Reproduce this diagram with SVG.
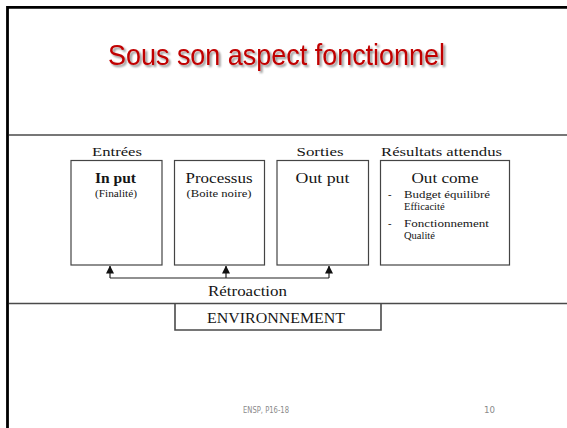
<svg xmlns="http://www.w3.org/2000/svg" width="567" height="428" viewBox="0 0 567 428">
  <style>
    .serif { font-family: "Liberation Serif", "Times New Roman", serif; fill: #151515; }
    .box { fill: #ffffff; stroke: #444444; stroke-width: 1.2; }
    .rule { stroke: #4a4a4a; stroke-width: 1.6; fill: none; }
    .link { stroke: #222222; stroke-width: 1.2; fill: none; }
    .foot { font-family: "DejaVu Sans Condensed", "Liberation Sans", sans-serif; font-size: 9px; fill: #8a8a8a; }
  </style>
  <defs>
    <marker id="tri" viewBox="0 0 8 8" refX="7.5" refY="4" markerWidth="8" markerHeight="8" markerUnits="userSpaceOnUse" orient="auto">
      <path d="M0,0 L8,4 L0,8 Z" fill="#111111"/>
    </marker>
    <!-- soft grey drop shadow for the heading -->
    <filter id="shadow" x="-5%" y="-20%" width="110%" height="150%">
      <feGaussianBlur in="SourceAlpha" stdDeviation="1.2" result="blur"/>
      <feOffset in="blur" dx="2" dy="2" result="off"/>
      <feComponentTransfer in="off" result="grey">
        <feFuncA type="linear" slope="0.45"/>
      </feComponentTransfer>
      <feMerge>
        <feMergeNode in="grey"/>
        <feMergeNode in="SourceGraphic"/>
      </feMerge>
    </filter>
  </defs>

  <!-- page -->
  <rect x="0" y="0" width="567" height="428" fill="#ffffff"/>
  <path d="M7.5,428 V7.3 H567" fill="none" stroke="#000000" stroke-width="2.8"/>

  <!-- heading -->
  <g id="title">
    <text x="276.5" y="65" text-anchor="middle" font-family="Liberation Sans, Arial, sans-serif" font-size="29" textLength="337" lengthAdjust="spacingAndGlyphs" fill="#c00000" filter="url(#shadow)">Sous son aspect fonctionnel</text>
  </g>

  <!-- outer band -->
  <g id="frame">
    <line class="rule" x1="9" y1="135" x2="567" y2="135"/>
    <line class="rule" x1="9" y1="303.5" x2="567" y2="303.5"/>
  </g>

  <!-- column headings -->
  <g id="headings" class="serif" font-size="13">
    <text x="117" y="155.5" text-anchor="middle" textLength="50" lengthAdjust="spacingAndGlyphs">Entrées</text>
    <text x="320" y="155.5" text-anchor="middle" textLength="47" lengthAdjust="spacingAndGlyphs">Sorties</text>
    <text x="441.5" y="155.5" text-anchor="middle" textLength="121" lengthAdjust="spacingAndGlyphs">Résultats attendus</text>
  </g>

  <g id="input">
    <rect class="box" x="71" y="160.5" width="91" height="104.5"/>
    <text class="serif" x="115.5" y="183" text-anchor="middle" font-size="15" font-weight="bold" textLength="41" lengthAdjust="spacingAndGlyphs">In put</text>
    <text class="serif" x="116" y="196.5" text-anchor="middle" font-size="10" textLength="42" lengthAdjust="spacingAndGlyphs">(Finalité)</text>
  </g>

  <g id="process">
    <rect class="box" x="174.5" y="160.5" width="90" height="104.5"/>
    <text class="serif" x="219" y="183" text-anchor="middle" font-size="15" textLength="67" lengthAdjust="spacingAndGlyphs">Processus</text>
    <text class="serif" x="219" y="196.5" text-anchor="middle" font-size="10" textLength="65" lengthAdjust="spacingAndGlyphs">(Boite noire)</text>
  </g>

  <g id="output">
    <rect class="box" x="277" y="160.5" width="91.5" height="104.5"/>
    <text class="serif" x="322.5" y="183" text-anchor="middle" font-size="15" textLength="54" lengthAdjust="spacingAndGlyphs">Out put</text>
  </g>

  <g id="outcome">
    <rect class="box" x="380.5" y="160.5" width="129" height="104.5"/>
    <text class="serif" x="445" y="183" text-anchor="middle" font-size="15" textLength="67" lengthAdjust="spacingAndGlyphs">Out come</text>
    <g class="serif" font-size="10.5">
      <text x="388" y="197.5">-</text>
      <text x="404" y="197.5" textLength="86" lengthAdjust="spacingAndGlyphs">Budget équilibré</text>
      <text x="404" y="210">Efficacité</text>
      <text x="388" y="226.5">-</text>
      <text x="404" y="226.5" textLength="85" lengthAdjust="spacingAndGlyphs">Fonctionnement</text>
      <text x="404" y="239">Qualité</text>
    </g>
  </g>

  <!-- feedback loop -->
  <g id="connectors">
    <path class="link" d="M110,278 H329"/>
    <path class="link" d="M110,278 V266" marker-end="url(#tri)"/>
    <path class="link" d="M226,278 V266" marker-end="url(#tri)"/>
    <path class="link" d="M329,278 V266" marker-end="url(#tri)"/>
  </g>

  <g id="feedback-label">
    <text class="serif" x="247.5" y="295.5" text-anchor="middle" font-size="15" textLength="79" lengthAdjust="spacingAndGlyphs">Rétroaction</text>
  </g>

  <g id="environment">
    <path class="rule" d="M175,303.5 V330 H381 V303.5" stroke-width="1.2"/>
    <text class="serif" x="276" y="323" text-anchor="middle" font-size="15" textLength="138" lengthAdjust="spacingAndGlyphs">ENVIRONNEMENT</text>
  </g>

  <!-- footer -->
  <g id="footer">
    <text class="foot" x="266" y="413" text-anchor="middle" textLength="46" lengthAdjust="spacingAndGlyphs">ENSP, P16-18</text>
    <text class="foot" x="489.5" y="413" text-anchor="middle" textLength="11" lengthAdjust="spacingAndGlyphs">10</text>
  </g>
</svg>
